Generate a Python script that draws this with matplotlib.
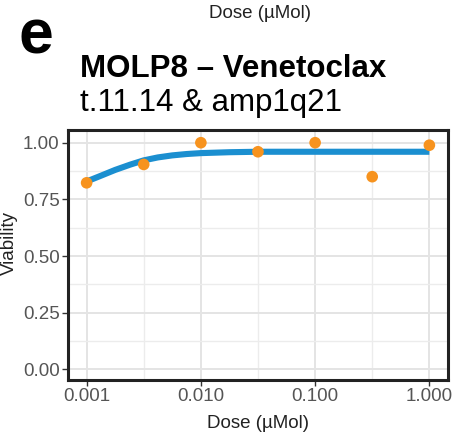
import numpy as np
import matplotlib.pyplot as plt
from matplotlib.ticker import FixedLocator, NullFormatter

plt.rcParams['font.family'] = ['Liberation Sans', 'DejaVu Sans']

# measured points
dose = [0.001, 0.00316, 0.01, 0.0316, 0.1, 0.316, 1.0]
viab = [0.823, 0.904, 1.0, 0.96, 1.0, 0.85, 0.989]

# fitted curve
fit_dose = [0.001, 0.0013, 0.00178, 0.0024, 0.00316, 0.0042, 0.00562, 0.0075,
            0.01, 0.0178, 0.0316, 0.1, 0.316, 1.0]
fit_viab = [0.829, 0.852, 0.88, 0.903, 0.922, 0.935, 0.944, 0.950,
            0.954, 0.958, 0.96, 0.96, 0.96, 0.96]

xticks = [0.001, 0.01, 0.1, 1.0]
xlabels = ['0.001', '0.010', '0.100', '1.000']
yticks = [0.0, 0.25, 0.5, 0.75, 1.0]
ylabels = ['0.00', '0.25', '0.50', '0.75', '1.00']

fig = plt.figure(figsize=(4.56, 4.38), dpi=100)
ax = fig.add_axes([68/456, 1 - 380/438, 380/456, 250/438])

ax.plot(fit_dose, fit_viab, color='#1b8fd0', lw=4.4, solid_capstyle='butt', zorder=3)
ax.scatter(dose, viab, s=70, color='#f7931e', edgecolors='none', zorder=4)

ax.set_xscale('log')
ax.set_xlim(10**-3.163, 10**0.163)
ax.set_ylim(-0.047, 1.056)
ax.xaxis.set_major_locator(FixedLocator(xticks))
ax.set_xticklabels(xlabels)
ax.xaxis.set_minor_locator(FixedLocator([0.00316, 0.0316, 0.316]))
ax.xaxis.set_minor_formatter(NullFormatter())
ax.set_yticks(yticks)
ax.set_yticklabels(ylabels)
ax.yaxis.set_minor_locator(FixedLocator([0.125, 0.375, 0.625, 0.875]))

ax.grid(True, which='major', color='#e4e4e4', lw=1.4, zorder=0)
ax.grid(True, which='minor', color='#ececec', lw=1.0, zorder=0)
ax.set_axisbelow(True)
ax.tick_params(which='major', length=4, width=1, color='#333333',
               labelsize=13.5, labelcolor='#555555', pad=2)
ax.tick_params(which='minor', length=0)
for s in ax.spines.values():
    s.set_linewidth(2.2)
    s.set_color('#222222')

ax.set_xlabel('Dose (µMol)', fontsize=13.5, color='#222222', labelpad=7)
fig.text(9/456, 1 - 243/438, 'Viability', rotation=90, fontsize=13.5,
         color='#222222', ha='center', va='center')

fig.text(260/456, 1 - 18/438, 'Dose (µMol)', fontsize=13.5, color='#222222',
         ha='center', va='baseline')
fig.text(19/456, 1 - 53/438, 'e', fontsize=45, fontweight='bold', va='baseline')
fig.text(80/456, 1 - 77/438, 'MOLP8 – Venetoclax', fontsize=22.5,
         fontweight='bold', va='baseline')
fig.text(80/456, 1 - 111/438, 't.11.14 & amp1q21', fontsize=22.5, va='baseline')

fig.savefig('out.png', dpi=100)
